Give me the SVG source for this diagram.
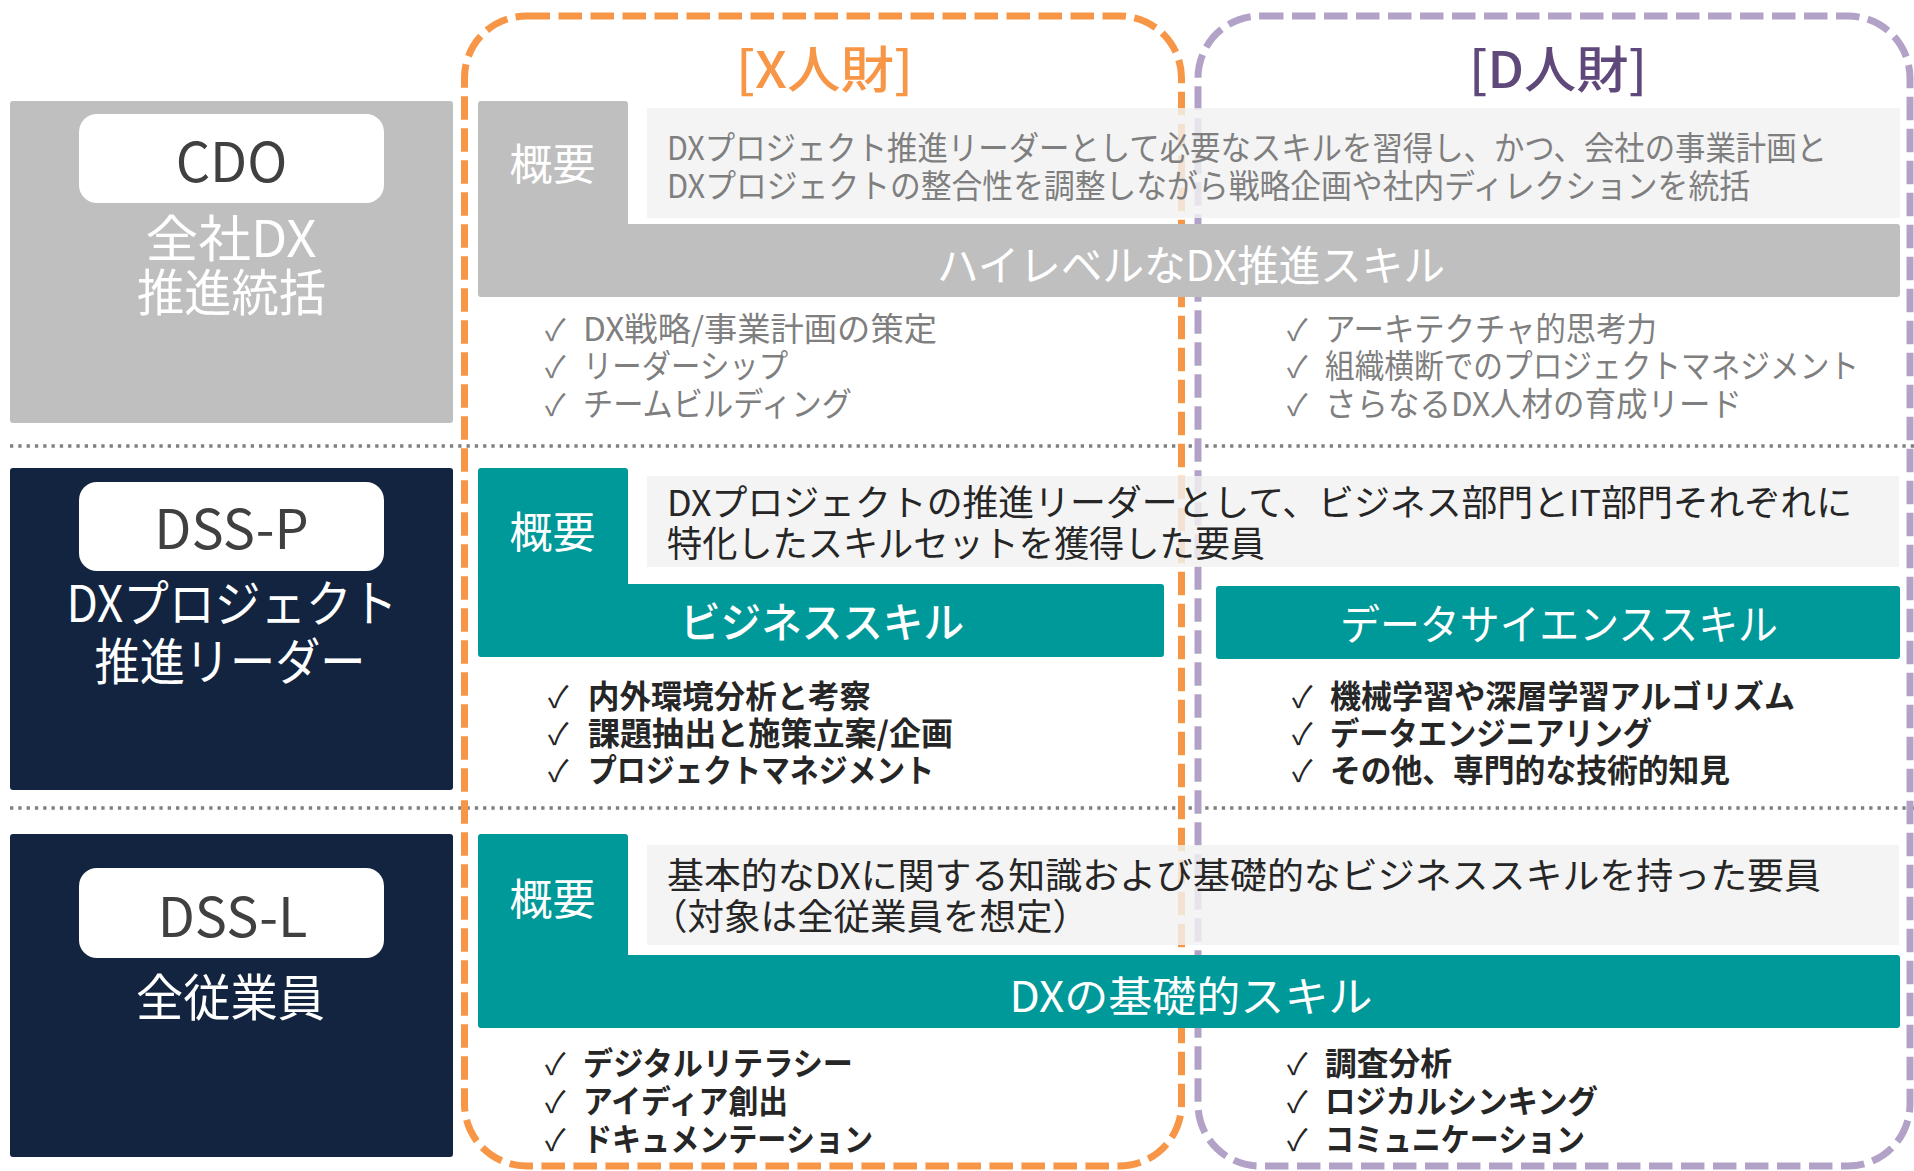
<svg xmlns="http://www.w3.org/2000/svg" width="1914" height="1171" viewBox="0 0 1914 1171">
<defs>
<style>
.jp{font-family:"Noto Sans CJK JP","Noto Sans",sans-serif;}
.ck{font-family:"Noto Sans CJK JP","DejaVu Sans",sans-serif;font-size:30px;font-weight:400;}
.frame{fill:none;stroke-width:7;stroke-dasharray:23.5 8.5;}
.sep{stroke:#7F7F7F;stroke-width:3.3;stroke-dasharray:3.3 5;fill:none;}
.lbox{fill:#12243F;}
.pill{fill:#FFFFFF;}
.pilltxt{font-size:54px;fill:#404040;text-anchor:middle;}
.sub{font-size:50px;fill:#FFFFFF;text-anchor:middle;}
.gray{fill:#BFBFBF;}
.teal{fill:#009999;}
.desc{fill:#F2F2F2;fill-opacity:0.82;}
.gaiyo{font-size:43px;fill:#FFFFFF;text-anchor:middle;}
.bar{font-size:42px;fill:#FFFFFF;}
.g1{font-size:33px;fill:#7F7F7F;}
.d2{font-size:36px;fill:#262626;}
.b2{font-size:32px;fill:#262626;font-weight:700;}
</style>
</defs>

<g id="separators">
<line class="sep" x1="10" y1="446" x2="1914" y2="446"/>
<line class="sep" x1="10" y1="808" x2="1914" y2="808"/>
</g>

<g id="x-frame">
<rect class="frame" x="464.5" y="16" width="717" height="1150" rx="62" stroke="#F79646"/>
<text class="jp" x="736" y="88" font-size="50" font-weight="500" fill="#F79646" textLength="177" lengthAdjust="spacingAndGlyphs">[X人財]</text>
</g>
<g id="d-frame">
<rect class="frame" x="1198" y="16" width="712" height="1150" rx="62" stroke="#B3A2C7"/>
<text class="jp" x="1469" y="88" font-size="50" font-weight="500" fill="#5F497A" textLength="178" lengthAdjust="spacingAndGlyphs">[D人財]</text>
</g>

<g id="cdo">
<rect x="10" y="101" width="443" height="322" rx="3" class="gray"/>
<rect x="79" y="114" width="305" height="89" rx="18" class="pill"/>
<text class="jp pilltxt" x="231.5" y="182">CDO</text>
<text class="jp sub" x="231" y="257" textLength="171" lengthAdjust="spacingAndGlyphs">全社DX</text>
<text class="jp sub" x="231.5" y="311" textLength="189" lengthAdjust="spacingAndGlyphs">推進統括</text>
</g>

<g id="dss-p">
<rect x="10" y="468" width="443" height="322" rx="3" class="lbox"/>
<rect x="79" y="482" width="305" height="89" rx="18" class="pill"/>
<text class="jp pilltxt" x="231.5" y="549">DSS-P</text>
<text class="jp sub" x="232" y="622" textLength="331" lengthAdjust="spacingAndGlyphs">DXプロジェクト</text>
<text class="jp sub" x="230" y="680" textLength="271" lengthAdjust="spacingAndGlyphs">推進リーダー</text>
</g>

<g id="dss-l">
<rect x="10" y="834" width="443" height="323" rx="3" class="lbox"/>
<rect x="79" y="868" width="305" height="90" rx="18" class="pill"/>
<text class="jp pilltxt" x="232.5" y="937">DSS-L</text>
<text class="jp sub" x="230.5" y="1016" textLength="189" lengthAdjust="spacingAndGlyphs">全従業員</text>
</g>

<g id="cdo-skills">
<path class="gray" d="M481,101 H625 Q628,101 628,104 V224 H1897 Q1900,224 1900,227 V294 Q1900,297 1897,297 H481 Q478,297 478,294 V104 Q478,101 481,101 Z"/>
<rect class="desc" x="647" y="108" width="1253" height="110"/>
<text class="jp gaiyo" x="552.5" y="180">概要</text>
<text class="jp g1" x="667" y="160" textLength="1160" lengthAdjust="spacingAndGlyphs">DXプロジェクト推進リーダーとして必要なスキルを習得し、かつ、会社の事業計画と</text>
<text class="jp g1" x="667" y="198" textLength="1083" lengthAdjust="spacingAndGlyphs">DXプロジェクトの整合性を調整しながら戦略企画や社内ディレクションを統括</text>
<text class="jp bar" x="937" y="281" textLength="508" lengthAdjust="spacingAndGlyphs">ハイレベルなDX推進スキル</text>
<g fill="#7F7F7F">
<text class="ck" x="545" y="341">✓</text>
<text class="ck" x="545" y="378">✓</text>
<text class="ck" x="545" y="416">✓</text>
<text class="ck" x="1287" y="341">✓</text>
<text class="ck" x="1287" y="378">✓</text>
<text class="ck" x="1287" y="416">✓</text>
</g>
<text class="jp g1" x="583" y="341" textLength="354" lengthAdjust="spacingAndGlyphs">DX戦略/事業計画の策定</text>
<text class="jp g1" x="583" y="378" textLength="205" lengthAdjust="spacingAndGlyphs">リーダーシップ</text>
<text class="jp g1" x="583" y="416" textLength="269" lengthAdjust="spacingAndGlyphs">チームビルディング</text>
<text class="jp g1" x="1325" y="341" textLength="332" lengthAdjust="spacingAndGlyphs">アーキテクチャ的思考力</text>
<text class="jp g1" x="1325" y="378" textLength="534" lengthAdjust="spacingAndGlyphs">組織横断でのプロジェクトマネジメント</text>
<text class="jp g1" x="1325" y="416" textLength="417" lengthAdjust="spacingAndGlyphs">さらなるDX人材の育成リード</text>
</g>

<g id="dss-p-skills">
<path class="teal" d="M481,468 H625 Q628,468 628,471 V584 H1161 Q1164,584 1164,587 V654 Q1164,657 1161,657 H481 Q478,657 478,654 V471 Q478,468 481,468 Z"/>
<rect class="teal" x="1216" y="586" width="684" height="73" rx="3"/>
<rect class="desc" x="647" y="476" width="1252" height="91"/>
<text class="jp gaiyo" x="552.5" y="548">概要</text>
<text class="jp d2" x="667" y="516" textLength="1185" lengthAdjust="spacingAndGlyphs">DXプロジェクトの推進リーダーとして、ビジネス部門とIT部門それぞれに</text>
<text class="jp d2" x="667" y="557" textLength="598" lengthAdjust="spacingAndGlyphs">特化したスキルセットを獲得した要員</text>
<text class="jp bar" x="680" y="638" font-weight="500" textLength="284" lengthAdjust="spacingAndGlyphs">ビジネススキル</text>
<text class="jp bar" x="1340" y="640" textLength="438" lengthAdjust="spacingAndGlyphs">データサイエンススキル</text>
<g fill="#262626">
<text class="ck" x="548" y="708">✓</text>
<text class="ck" x="548" y="745">✓</text>
<text class="ck" x="548" y="782">✓</text>
<text class="ck" x="1292" y="708">✓</text>
<text class="ck" x="1292" y="745">✓</text>
<text class="ck" x="1292" y="782">✓</text>
</g>
<text class="jp b2" x="588" y="708" textLength="283" lengthAdjust="spacingAndGlyphs">内外環境分析と考察</text>
<text class="jp b2" x="588" y="745" textLength="365" lengthAdjust="spacingAndGlyphs">課題抽出と施策立案/企画</text>
<text class="jp b2" x="588" y="782" textLength="346" lengthAdjust="spacingAndGlyphs">プロジェクトマネジメント</text>
<text class="jp b2" x="1330" y="708" textLength="465" lengthAdjust="spacingAndGlyphs">機械学習や深層学習アルゴリズム</text>
<text class="jp b2" x="1330" y="745" textLength="322" lengthAdjust="spacingAndGlyphs">データエンジニアリング</text>
<text class="jp b2" x="1330" y="782" textLength="400" lengthAdjust="spacingAndGlyphs">その他、専門的な技術的知見</text>
</g>

<g id="dss-l-skills">
<path class="teal" d="M481,834 H625 Q628,834 628,837 V955 H1897 Q1900,955 1900,958 V1025 Q1900,1028 1897,1028 H481 Q478,1028 478,1025 V837 Q478,834 481,834 Z"/>
<rect class="desc" x="647" y="845" width="1252" height="100"/>
<text class="jp gaiyo" x="552.5" y="915">概要</text>
<text class="jp d2" x="667" y="889" textLength="1154" lengthAdjust="spacingAndGlyphs">基本的なDXに関する知識および基礎的なビジネススキルを持った要員</text>
<text class="jp d2" x="651" y="930" textLength="438" lengthAdjust="spacingAndGlyphs">（対象は全従業員を想定）</text>
<text class="jp bar" x="1009.5" y="1012" font-size="44" textLength="363" lengthAdjust="spacingAndGlyphs">DXの基礎的スキル</text>
<g fill="#262626">
<text class="ck" x="545" y="1075">✓</text>
<text class="ck" x="545" y="1113">✓</text>
<text class="ck" x="545" y="1151">✓</text>
<text class="ck" x="1287" y="1075">✓</text>
<text class="ck" x="1287" y="1113">✓</text>
<text class="ck" x="1287" y="1151">✓</text>
</g>
<text class="jp b2" x="583" y="1075" textLength="270" lengthAdjust="spacingAndGlyphs">デジタルリテラシー</text>
<text class="jp b2" x="583" y="1113" textLength="205" lengthAdjust="spacingAndGlyphs">アイディア創出</text>
<text class="jp b2" x="583" y="1151" textLength="290" lengthAdjust="spacingAndGlyphs">ドキュメンテーション</text>
<text class="jp b2" x="1325" y="1075" textLength="127" lengthAdjust="spacingAndGlyphs">調査分析</text>
<text class="jp b2" x="1325" y="1113" textLength="273" lengthAdjust="spacingAndGlyphs">ロジカルシンキング</text>
<text class="jp b2" x="1325" y="1151" textLength="260" lengthAdjust="spacingAndGlyphs">コミュニケーション</text>
</g>
</svg>
